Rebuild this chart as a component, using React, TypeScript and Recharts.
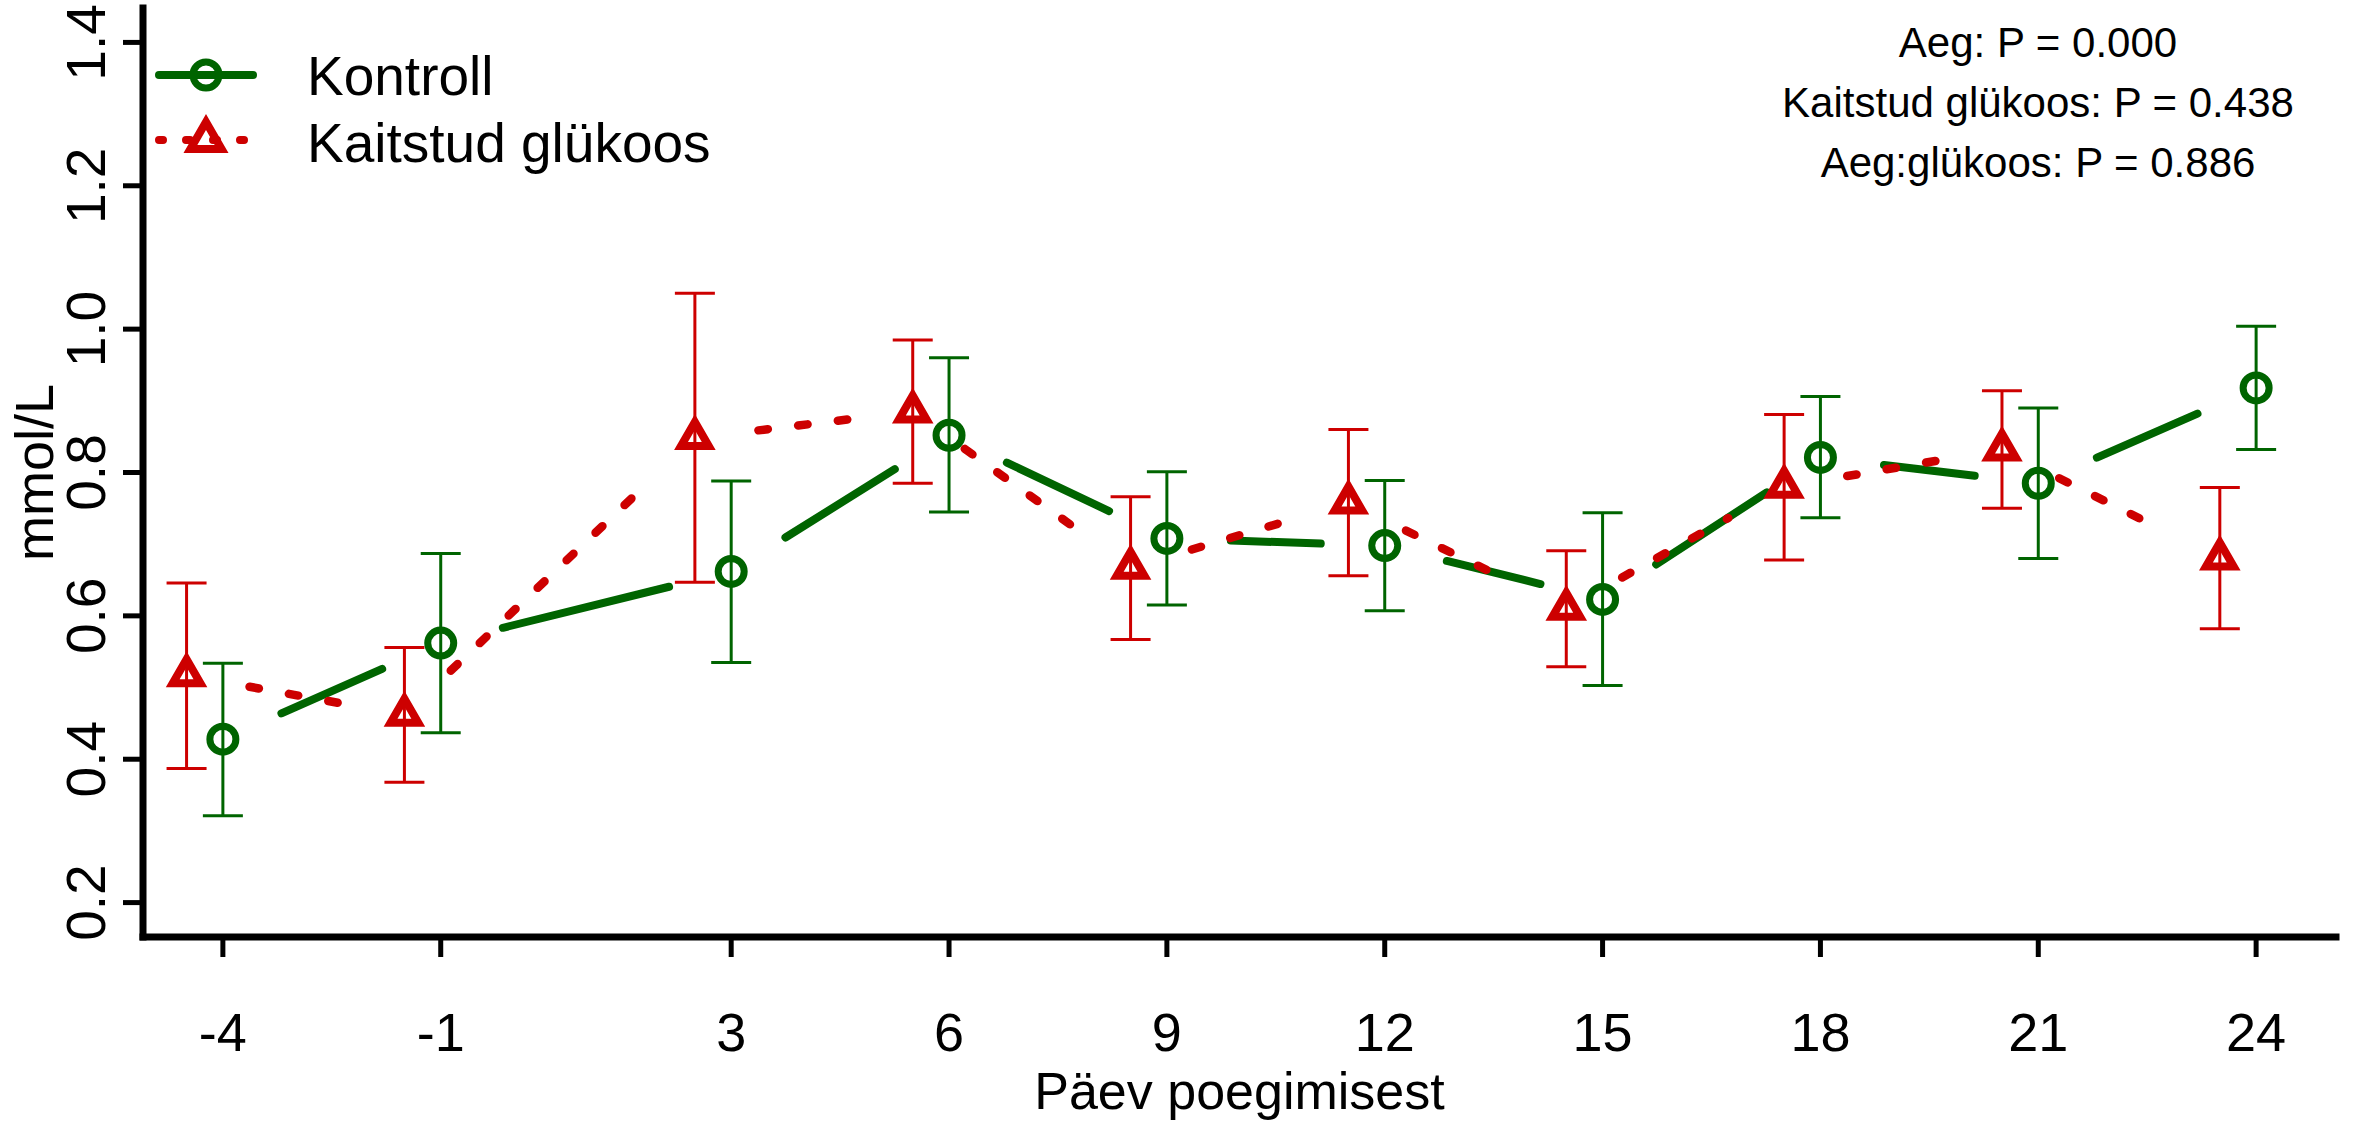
import React from 'react';
import { ComposedChart, Scatter, XAxis, YAxis, ErrorBar, ReferenceLine } from 'recharts';

// ---------- data ----------
const days = [-4, -1, 3, 6, 9, 12, 15, 18, 21, 24];
const seriesNames = ['Kontroll', 'Kaitstud glükoos'];

const kontrollMean = [0.428, 0.562, 0.662, 0.852, 0.708, 0.698, 0.623, 0.821, 0.785, 0.918];
const kontrollLow = [0.321, 0.437, 0.535, 0.745, 0.615, 0.607, 0.503, 0.737, 0.68, 0.832];
const kontrollHigh = [0.534, 0.687, 0.788, 0.96, 0.801, 0.789, 0.744, 0.906, 0.89, 1.004];

const glukoosMean = [0.517, 0.462, 0.848, 0.885, 0.667, 0.758, 0.61, 0.78, 0.832, 0.68];
const glukoosLow = [0.387, 0.368, 0.647, 0.785, 0.567, 0.656, 0.529, 0.678, 0.75, 0.582];
const glukoosHigh = [0.646, 0.556, 1.05, 0.985, 0.766, 0.86, 0.691, 0.881, 0.914, 0.779];

const kontrollOffset = 0;
const glukoosOffset = -0.5;

const yTicks = [0.2, 0.4, 0.6, 0.8, 1.0, 1.2, 1.4];
const xDomain = [-5.1, 25.1];
const yDomain = [0.152, 1.448];

const annotationLines = ['Aeg: P = 0.000', 'Kaitstud glükoos: P = 0.438', 'Aeg:glükoos: P = 0.886'];
const xTitle = 'Päev poegimisest';
const yTitle = 'mmol/L';

// ---------- style ----------
const W = 2359;
const H = 1122;
const FONT = '"Liberation Sans", Arial, Helvetica, sans-serif';
const GREEN = '#006400';
const RED = '#cd0000';
const GAP = 64;

type Pt = { x: number; y: number; err: [number, number] };

function buildSeries(xs: number[], offset: number, mean: number[], low: number[], high: number[]): Pt[] {
  return xs.map((d, i) => ({ x: d + offset, y: mean[i], err: [mean[i] - low[i], high[i] - mean[i]] }));
}

const kontrollData = buildSeries(days, kontrollOffset, kontrollMean, kontrollLow, kontrollHigh);
const glukoosData = buildSeries(days, glukoosOffset, glukoosMean, glukoosLow, glukoosHigh);

const circlePath = (cx: number, cy: number) => <circle cx={cx} cy={cy} r={13} fill="none" stroke={GREEN} strokeWidth={7} />;
const trianglePath = (cx: number, cy: number, R = 16) => {
  const pts = `${cx},${cy - R} ${cx + R * 0.866},${cy + R / 2} ${cx - R * 0.866},${cy + R / 2}`;
  return <polygon points={pts} fill="none" stroke={RED} strokeWidth={8} strokeLinejoin="miter" />;
};

const CircleMarker = (props: any) => {
  const { cx, cy } = props;
  if (cx == null || cy == null) return <g />;
  return circlePath(cx, cy);
};
const TriangleMarker = (props: any) => {
  const { cx, cy } = props;
  if (cx == null || cy == null) return <g />;
  return trianglePath(cx, cy);
};

function makeSegmentShape(color: string, width: number, dash?: string) {
  return (props: any) => {
    const { x1, y1, x2, y2 } = props;
    if ([x1, y1, x2, y2].some((v) => typeof v !== 'number' || isNaN(v))) return <g />;
    const dx = x2 - x1;
    const dy = y2 - y1;
    const len = Math.hypot(dx, dy);
    if (!(len > 2 * GAP)) return <g />;
    const ux = dx / len;
    const uy = dy / len;
    return (
      <line
        x1={x1 + ux * GAP}
        y1={y1 + uy * GAP}
        x2={x2 - ux * GAP}
        y2={y2 - uy * GAP}
        stroke={color}
        strokeWidth={width}
        strokeLinecap="round"
        strokeDasharray={dash}
      />
    );
  };
}

const greenSeg = makeSegmentShape(GREEN, 8);
const redSeg = makeSegmentShape(RED, 8.5, '9.5 30.5');

const XTick = (props: any) => {
  const { x, y, payload } = props;
  return (
    <text x={x} y={y + 92} textAnchor="middle" fontSize={54} fontFamily={FONT} fill="#000">
      {String(payload.value)}
    </text>
  );
};

const YTick = (props: any) => {
  const { x, y, payload } = props;
  const tx = x - 16;
  return (
    <text x={tx} y={y} transform={`rotate(-90, ${tx}, ${y})`} textAnchor="middle" fontSize={55} fontFamily={FONT} fill="#000">
      {Number(payload.value).toFixed(1)}
    </text>
  );
};

const XLabel = (props: any) => {
  const vb = props.viewBox || { x: 143, y: 937, width: 2193, height: 185 };
  return (
    <text x={vb.x + vb.width / 2} y={vb.y + 172} textAnchor="middle" fontSize={52} fontFamily={FONT} fill="#000">
      {xTitle}
    </text>
  );
};

const YLabel = (props: any) => {
  const vb = props.viewBox || { x: 0, y: 8, width: 143, height: 929 };
  const cx = vb.x + 53;
  const cy = vb.y + vb.height / 2;
  return (
    <text x={cx} y={cy} transform={`rotate(-90, ${cx}, ${cy})`} textAnchor="middle" fontSize={54} fontFamily={FONT} fill="#000">
      {yTitle}
    </text>
  );
};

const Overlay = () => (
  <svg width={W} height={H} style={{ position: 'absolute', left: 0, top: 0, pointerEvents: 'none' }}>
    {/* legend */}
    <line x1={159} y1={75} x2={253} y2={75} stroke={GREEN} strokeWidth={8} strokeLinecap="round" />
    {circlePath(206, 75)}
    <line x1={159} y1={140} x2={245} y2={140} stroke={RED} strokeWidth={8} strokeLinecap="round" strokeDasharray="4 23" />
    {trianglePath(206, 140, 18)}
    <text x={307} y={95} fontSize={55} fontFamily={FONT} fill="#000">{seriesNames[0]}</text>
    <text x={307} y={162} fontSize={55} fontFamily={FONT} fill="#000">{seriesNames[1]}</text>
    {/* annotation */}
    {annotationLines.map((t, i) => (
      <text key={t} x={2038} y={57 + i * 60} textAnchor="middle" fontSize={42} fontFamily={FONT} fill="#000">
        {t}
      </text>
    ))}
  </svg>
);

export default function App() {
  return (
    <div style={{ position: 'absolute', left: 0, top: 0, width: W, height: H, background: '#fff' }}>
      <ComposedChart width={W} height={H} margin={{ top: 8, right: 23, bottom: 0, left: 0 }}>
        <XAxis
          type="number"
          dataKey="x"
          domain={xDomain}
          ticks={days}
          interval={0}
          allowDataOverflow
          height={185}
          tickSize={20}
          tickLine={{ stroke: '#000', strokeWidth: 5 }}
          axisLine={{ stroke: '#000', strokeWidth: 7, strokeLinecap: 'square' }}
          tick={XTick}
          label={XLabel}
        />
        <YAxis
          type="number"
          dataKey="y"
          domain={yDomain}
          ticks={yTicks}
          interval={0}
          allowDataOverflow
          width={143}
          tickSize={20}
          tickLine={{ stroke: '#000', strokeWidth: 5 }}
          axisLine={{ stroke: '#000', strokeWidth: 7, strokeLinecap: 'square' }}
          tick={YTick}
          label={YLabel}
        />
        {kontrollData.slice(1).map((p, i) => (
          <ReferenceLine
            key={'g' + i}
            segment={[{ x: kontrollData[i].x, y: kontrollData[i].y }, { x: p.x, y: p.y }]}
            shape={greenSeg}
            ifOverflow="visible"
          />
        ))}
        {glukoosData.slice(1).map((p, i) => (
          <ReferenceLine
            key={'r' + i}
            segment={[{ x: glukoosData[i].x, y: glukoosData[i].y }, { x: p.x, y: p.y }]}
            shape={redSeg}
            ifOverflow="visible"
          />
        ))}
        <Scatter name={seriesNames[0]} data={kontrollData} shape={CircleMarker} isAnimationActive={false}>
          <ErrorBar dataKey="err" direction="y" width={20} stroke={GREEN} strokeWidth={3} />
        </Scatter>
        <Scatter name={seriesNames[1]} data={glukoosData} shape={TriangleMarker} isAnimationActive={false}>
          <ErrorBar dataKey="err" direction="y" width={20} stroke={RED} strokeWidth={3} />
        </Scatter>
      </ComposedChart>
      <Overlay />
    </div>
  );
}
